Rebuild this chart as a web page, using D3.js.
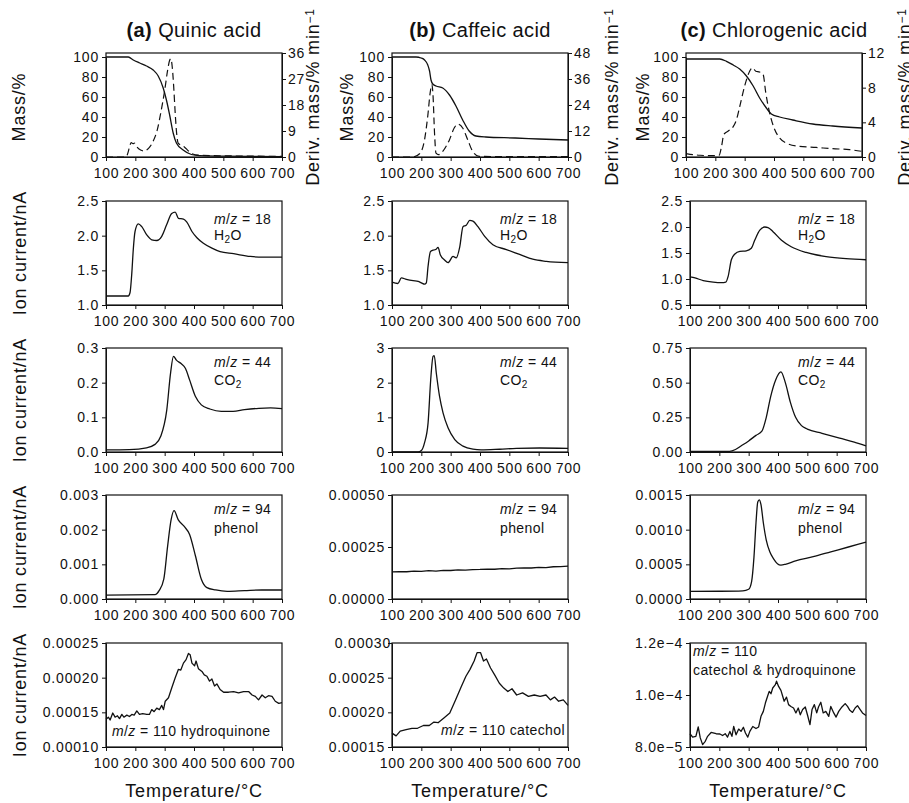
<!DOCTYPE html>
<html>
<head>
<meta charset="utf-8">
<script src="https://d3js.org/d3.v7.min.js"></script>
<style>
    body { margin: 0; background: #fff; }
    svg text { font-family: "Liberation Sans", Arial, sans-serif; fill: #111; }
</style>
<title>TG and MS curves</title>
</head>
<body>
<svg id="chart" width="909" height="803"></svg>
<script>
// temperature ticks shared by every panel
var temps = [100, 200, 300, 400, 500, 600, 700];

// row 1: mass (solid) and derivative mass (dashed), [T, value]
var quinicMass = [[100,100],[176,100],[193,97],[215,94],[238,91],[261,87],[278,81],[295,69],[306,57],[317,42],[329,24],[340,14],[363,7],[391,2.5],[419,1.3],[500,0.9],[600,0.6],[700,0.4]];
var quinicDeriv = [[100,0],[168,0],[175,1.5],[182,4.2],[186,5.0],[192,4.6],[197,4.8],[205,3.5],[218,2.4],[228,2.1],[245,3.0],[261,5.5],[275,9.5],[288,16],[300,23],[310,30],[317,33.5],[321,34],[326,31],[331,24],[336,15],[341,8],[346,4.8],[357,4.0],[368,3.4],[378,2.4],[391,1.2],[419,0.6],[500,0.4],[600,0.3],[700,0.2]];
var caffeicMass = [[100,100],[182,100],[199,99],[211,97],[222,92],[228,86],[233,77],[239,73],[250,71],[273,69],[296,62],[318,51],[341,37],[363,26],[386,21],[420,20],[520,19],[600,18],[700,17]];
var caffeicDeriv = [[100,0],[171,0],[194,1.5],[211,8],[222,19],[230,29.5],[236,33.4],[240,28],[245,11],[250,1.8],[259,1.1],[273,2.6],[296,8],[312,13.4],[324,15.2],[341,13.4],[358,8],[375,2.6],[397,0.3],[500,0.2],[700,0.2]];
var chloroMass = [[100,98],[215,98],[238,95.7],[261,92],[283,88],[306,81],[329,71],[351,59],[374,49],[391,43],[419,40],[464,37],[532,33],[600,31],[700,29]];
var chloroDeriv = [[100,0.4],[125,0.27],[148,0.2],[193,0.15],[213,0.2],[221,1.2],[229,2.6],[244,3.0],[261,3.5],[272,4.3],[283,5.8],[300,8.2],[317,9.9],[326,10.3],[338,9.9],[351,9.8],[363,9.5],[372,7.4],[385,5.1],[402,3.2],[419,2.2],[442,1.6],[487,1.23],[544,1.1],[600,0.96],[657,0.85],[700,0.65]];
var massTicks = [0, 20, 40, 60, 80, 100];
var quinicDerivTicks = [0, 9, 18, 27, 36];
var caffeicDerivTicks = [0, 12, 24, 36, 48];
var chloroDerivTicks = [0, 4, 8, 12];

// row 2: m/z = 18
var quinicH2O = [[100,1.13],[176,1.13],[182,1.18],[188,1.46],[193,1.80],[199,2.06],[210,2.17],[222,2.13],[239,2.01],[256,1.94],[273,1.93],[290,1.99],[307,2.16],[324,2.32],[336,2.34],[347,2.25],[364,2.24],[375,2.20],[393,2.06],[410,1.97],[432,1.89],[461,1.82],[489,1.77],[535,1.74],[592,1.70],[637,1.69],[700,1.69]];
var caffeicH2O = [[100,1.33],[120,1.31],[132,1.39],[149,1.37],[172,1.35],[189,1.34],[200,1.32],[211,1.30],[217,1.32],[223,1.56],[231,1.77],[240,1.79],[249,1.80],[257,1.83],[265,1.72],[279,1.65],[291,1.61],[308,1.70],[319,1.68],[331,1.84],[342,2.13],[353,2.15],[365,2.22],[376,2.21],[393,2.13],[416,1.99],[444,1.87],[490,1.80],[535,1.73],[580,1.66],[626,1.63],[700,1.61]];
var chloroH2O = [[100,1.04],[117,1.02],[145,0.97],[179,0.94],[208,0.93],[222,0.94],[230,1.05],[241,1.37],[253,1.48],[270,1.53],[292,1.54],[309,1.59],[321,1.75],[338,1.94],[355,2.00],[366,1.99],[383,1.91],[411,1.75],[445,1.62],[496,1.51],[564,1.43],[632,1.39],[700,1.37]];
var h2oTicks = [1.0, 1.5, 2.0, 2.5];
var chloroH2OTicks = [0.5, 1.0, 1.5, 2.0, 2.5];

// row 3: m/z = 44
var quinicCO2 = [[100,0.006],[179,0.007],[238,0.012],[267,0.022],[287,0.046],[307,0.12],[320,0.227],[330,0.276],[340,0.265],[356,0.255],[371,0.241],[385,0.208],[405,0.16],[425,0.136],[454,0.124],[493,0.117],[533,0.117],[572,0.122],[621,0.126],[661,0.127],[700,0.125]];
var caffeicCO2 = [[100,0],[189,0],[200,0.04],[211,0.27],[223,0.84],[232,2.09],[240,2.76],[244,2.78],[251,2.28],[262,1.61],[274,1.13],[291,0.70],[314,0.36],[342,0.17],[376,0.08],[404,0.06],[467,0.08],[524,0.105],[603,0.115],[700,0.105]];
var chloroCO2 = [[100,0.005],[235,0.005],[255,0.018],[275,0.045],[300,0.08],[325,0.12],[345,0.15],[360,0.25],[375,0.40],[392,0.52],[410,0.578],[425,0.50],[442,0.36],[460,0.25],[480,0.19],[500,0.165],[550,0.135],[610,0.10],[660,0.072],[700,0.045]];
var quinicCO2Ticks = [0.0, 0.1, 0.2, 0.3];
var caffeicCO2Ticks = [0, 1, 2, 3];
var chloroCO2Ticks = [0.00, 0.25, 0.50, 0.75];

// row 4: m/z = 94
var quinicPhenol = [[100,0.000114],[267,0.000124],[281,0.00024],[297,0.00057],[310,0.00152],[322,0.00229],[332,0.00255],[346,0.00229],[366,0.0021],[385,0.00186],[405,0.00124],[425,0.00057],[444,0.00033],[474,0.00026],[513,0.00022],[572,0.00024],[631,0.00026],[700,0.00026]];
var caffeicPhenol = [[100,0.000130],[125,0.000132],[150,0.000131],[175,0.000134],[200,0.000133],[225,0.000136],[250,0.000134],[275,0.000138],[300,0.000137],[325,0.000140],[350,0.000139],[375,0.000141],[400,0.000142],[425,0.000144],[450,0.000143],[475,0.000146],[500,0.000145],[525,0.000148],[550,0.000150],[575,0.000149],[600,0.000152],[625,0.000151],[650,0.000155],[675,0.000156],[700,0.000158]];
var chloroPhenol = [[100,0.000110],[200,0.000112],[280,0.000118],[300,0.00014],[310,0.00025],[318,0.00060],[325,0.00110],[331,0.00140],[336,0.00143],[342,0.00136],[350,0.00110],[360,0.00085],[372,0.00068],[385,0.00058],[398,0.00051],[410,0.00049],[425,0.00050],[460,0.00055],[520,0.00061],[580,0.00068],[640,0.00075],[700,0.00082]];
var quinicPhenolTicks = [0.000, 0.001, 0.002, 0.003];
var caffeicPhenolTicks = [0, 0.00025, 0.0005];
var chloroPhenolTicks = [0, 0.0005, 0.0010, 0.0015];

// row 5: m/z = 110
var quinicHQ = [[100,0.000140],[108,0.000143],[114,0.000139],[123,0.000149],[131,0.000143],[139,0.000145],[146,0.000141],[154,0.000147],[161,0.000143],[171,0.000146],[180,0.000144],[188,0.000147],[196,0.000146],[205,0.000152],[214,0.000147],[225,0.000148],[239,0.000147],[248,0.000147],[256,0.000154],[264,0.000151],[273,0.000156],[282,0.000154],[290,0.000160],[296,0.000154],[302,0.000166],[313,0.000171],[324,0.000185],[336,0.000200],[347,0.000212],[355,0.000211],[364,0.000221],[373,0.000226],[381,0.000235],[387,0.000233],[393,0.000221],[402,0.000217],[407,0.000224],[415,0.000213],[427,0.000209],[435,0.000204],[444,0.000202],[453,0.000195],[461,0.000198],[470,0.000188],[478,0.000191],[489,0.000183],[501,0.000179],[518,0.000179],[535,0.000180],[552,0.000178],[569,0.000180],[586,0.000180],[598,0.000175],[609,0.000173],[620,0.000168],[632,0.000175],[643,0.000171],[654,0.000174],[666,0.000173],[677,0.000166],[689,0.000163],[700,0.000164]];
var caffeicCat = [[100,0.000170],[114,0.000166],[128,0.000173],[148,0.000175],[168,0.000177],[187,0.000177],[207,0.000181],[227,0.000181],[243,0.000186],[257,0.000185],[277,0.000192],[297,0.000199],[317,0.000218],[336,0.000237],[352,0.000252],[366,0.000262],[380,0.000274],[390,0.000286],[402,0.000286],[412,0.000274],[422,0.000277],[436,0.000264],[450,0.000254],[466,0.000242],[481,0.000235],[495,0.000230],[509,0.000234],[525,0.000225],[545,0.000228],[565,0.000223],[585,0.000225],[605,0.000223],[625,0.000225],[640,0.000218],[654,0.000222],[668,0.000216],[684,0.000218],[700,0.000210]];
var chloroCH = [[100,8.51e-5],[109,8.38e-5],[120,8.41e-5],[128,8.77e-5],[135,8.35e-5],[143,8.09e-5],[152,8.22e-5],[160,8.41e-5],[172,8.56e-5],[189,8.51e-5],[202,8.50e-5],[211,8.44e-5],[220,8.51e-5],[228,8.38e-5],[236,8.60e-5],[243,8.41e-5],[249,8.79e-5],[257,8.47e-5],[266,8.69e-5],[274,8.60e-5],[282,8.76e-5],[289,8.54e-5],[297,8.38e-5],[304,8.60e-5],[314,8.79e-5],[325,8.71e-5],[334,8.77e-5],[342,9.18e-5],[350,9.37e-5],[357,9.69e-5],[365,9.97e-5],[370,1.014e-4],[376,1.005e-4],[382,1.027e-4],[391,1.040e-4],[395,1.053e-4],[402,1.033e-4],[410,1.018e-4],[416,9.95e-5],[421,9.76e-5],[429,9.92e-5],[436,9.63e-5],[444,9.56e-5],[453,9.50e-5],[461,9.31e-5],[469,9.50e-5],[476,9.24e-5],[484,9.44e-5],[493,9.54e-5],[501,9.21e-5],[509,8.86e-5],[516,9.44e-5],[524,9.63e-5],[532,9.31e-5],[538,9.54e-5],[546,9.72e-5],[554,9.31e-5],[563,9.37e-5],[573,9.18e-5],[580,9.56e-5],[590,9.31e-5],[598,9.15e-5],[607,9.37e-5],[618,9.54e-5],[629,9.67e-5],[637,9.56e-5],[645,9.41e-5],[654,9.33e-5],[663,9.50e-5],[671,9.59e-5],[679,9.46e-5],[688,9.31e-5],[700,9.21e-5]];
var quinicHQTicks = [0.00010, 0.00015, 0.00020, 0.00025];
var caffeicCatTicks = [0.00015, 0.00020, 0.00025, 0.00030];
var chloroCHTicks = [8e-5, 1.0e-4, 1.2e-4];
var chloroCHTickLabels = ["8.0e\u22125", "1.0e\u22124", "1.2e\u22124"];

var titles = [["(a)", " Quinic acid"], ["(b)", " Caffeic acid"], ["(c)", " Chlorogenic acid"]];

var svg = d3.select("#chart");
var W = 176, H = 104;
var colX = [106, 392, 690];
var rowY = [53, 201, 348, 495, 643];

function mz(n) {
    return [["m", "i"], ["/"], ["z", "i"], [" = " + n]];
}

function writeParts(text, parts) {
    parts.forEach(function (p) {
        var t = text.append("tspan").text(p[0]);
        if (p[1] === "i") t.style("font-style", "italic");
        if (p[1] === "sub") t.attr("baseline-shift", "-30%").style("font-size", "10px");
        if (p[1] === "sup") t.attr("baseline-shift", "40%").style("font-size", "12px");
    });
}

function styleAxis(a) {
    a.attr("font-family", null).attr("font-size", null);
    a.selectAll("path,line").attr("stroke", "#111");
    a.selectAll("text").style("font-size", "14px").style("letter-spacing", "0.8px");
}

function panel(row, col, cfg) {
    var left = colX[col] - (row === 0 && col === 2 ? 4 : 0);
    var g = svg.append("g").attr("transform", "translate(" + left + "," + rowY[row] + ")");
    var x = d3.scaleLinear().domain([100, 700]).range([0, W]);
    var y = d3.scaleLinear().domain(cfg.domain).range([H, cfg.top || 0]);

    g.append("rect")
        .attr("width", W).attr("height", H)
        .attr("fill", "none").attr("stroke", "#111").attr("stroke-width", 1.2);

    var xa = g.append("g")
        .attr("transform", "translate(0," + H + ")")
        .call(d3.axisBottom(x).tickValues(temps).tickSize(4).tickSizeOuter(0).tickPadding(7).tickFormat(d3.format("d")));
    styleAxis(xa);

    var ya = g.append("g")
        .call(d3.axisLeft(y).tickValues(cfg.ticks).tickSize(4).tickSizeOuter(0).tickPadding(3).tickFormat(cfg.fmt));
    styleAxis(ya);
    if (cfg.shiftTop) {
        var topTick = cfg.ticks[cfg.ticks.length - 1];
        ya.selectAll(".tick text")
            .filter(function (d) { return d === topTick; })
            .attr("x", -7 + cfg.shiftTop);
    }

    if (cfg.right) {
        var y2 = d3.scaleLinear().domain(d3.extent(cfg.right.ticks)).range([H, 0]);
        var ra = g.append("g")
            .attr("transform", "translate(" + W + ",0)")
            .call(d3.axisRight(y2).tickValues(cfg.right.ticks).tickSize(4).tickSizeOuter(0).tickPadding(2));
        styleAxis(ra);
        g.append("path")
            .datum(cfg.right.data)
            .attr("fill", "none")
            .attr("stroke", "#111")
            .attr("stroke-width", 1.2)
            .attr("stroke-dasharray", "7,4")
            .attr("d", d3.line()
                .x(function (d) { return x(d[0]); })
                .y(function (d) { return y2(d[1]); })
                .curve(d3.curveMonotoneX));
    }

    g.append("path")
        .datum(cfg.data)
        .attr("fill", "none")
        .attr("stroke", "#111")
        .attr("stroke-width", 1.3)
        .attr("stroke-linejoin", "round")
        .attr("d", d3.line()
            .x(function (d) { return x(d[0]); })
            .y(function (d) { return y(d[1]); })
            .curve(cfg.noisy ? d3.curveLinear : d3.curveMonotoneX));

    (cfg.notes || []).forEach(function (n) {
        var t = g.append("text")
            .attr("x", n.x).attr("y", n.y)
            .attr("text-anchor", n.anchor || "start")
            .style("font-size", "14px")
            .style("letter-spacing", "0.4px");
        writeParts(t, n.parts);
    });
}

function twoLine(a, b, y1, y2) {
    return [{ x: 108, y: y1, parts: a }, { x: 108, y: y2, parts: b }];
}

// row 1
panel(0, 0, { data: quinicMass, domain: [0, 100], top: 4, ticks: massTicks, fmt: d3.format("d"),
    right: { data: quinicDeriv, ticks: quinicDerivTicks } });
panel(0, 1, { data: caffeicMass, domain: [0, 100], top: 4, ticks: massTicks, fmt: d3.format("d"),
    right: { data: caffeicDeriv, ticks: caffeicDerivTicks } });
panel(0, 2, { data: chloroMass, domain: [0, 100], top: 4, ticks: massTicks, fmt: d3.format("d"),
    right: { data: chloroDeriv, ticks: chloroDerivTicks } });

// row 2
var h2oNote = twoLine(mz("18"), [["H"], ["2", "sub"], ["O"]], 23, 39);
panel(1, 0, { data: quinicH2O, domain: d3.extent(h2oTicks), ticks: h2oTicks, fmt: d3.format(".1f"), notes: h2oNote });
panel(1, 1, { data: caffeicH2O, domain: d3.extent(h2oTicks), ticks: h2oTicks, fmt: d3.format(".1f"), notes: h2oNote });
panel(1, 2, { data: chloroH2O, domain: d3.extent(chloroH2OTicks), ticks: chloroH2OTicks, fmt: d3.format(".1f"), notes: h2oNote });

// row 3
var co2Note = twoLine(mz("44"), [["CO"], ["2", "sub"]], 19, 37);
panel(2, 0, { data: quinicCO2, domain: d3.extent(quinicCO2Ticks), ticks: quinicCO2Ticks, fmt: d3.format(".1f"), notes: co2Note });
panel(2, 1, { data: caffeicCO2, domain: d3.extent(caffeicCO2Ticks), ticks: caffeicCO2Ticks, fmt: d3.format("d"), notes: co2Note });
panel(2, 2, { data: chloroCO2, domain: d3.extent(chloroCO2Ticks), ticks: chloroCO2Ticks, fmt: d3.format(".2f"), notes: co2Note });

// row 4
var phenolNote = twoLine(mz("94"), [["phenol"]], 19, 38);
panel(3, 0, { data: quinicPhenol, domain: d3.extent(quinicPhenolTicks), ticks: quinicPhenolTicks, fmt: d3.format(".3f"), notes: phenolNote });
panel(3, 1, { data: caffeicPhenol, domain: d3.extent(caffeicPhenolTicks), ticks: caffeicPhenolTicks, fmt: d3.format(".5f"), notes: phenolNote, noisy: true });
panel(3, 2, { data: chloroPhenol, domain: d3.extent(chloroPhenolTicks), ticks: chloroPhenolTicks, fmt: d3.format(".4f"), notes: phenolNote });

// row 5
panel(4, 0, { data: quinicHQ, domain: d3.extent(quinicHQTicks), ticks: quinicHQTicks, fmt: d3.format(".5f"), noisy: true,
    notes: [{ x: 6, y: H - 11, parts: mz("110").concat([[" hydroquinone"]]) }] });
panel(4, 1, { data: caffeicCat, domain: d3.extent(caffeicCatTicks), ticks: caffeicCatTicks, fmt: d3.format(".5f"), noisy: true, shiftTop: 6,
    notes: [{ x: W - 3, y: H - 12, anchor: "end", parts: mz("110").concat([[" catechol"]]) }] });
panel(4, 2, { data: chloroCH, domain: d3.extent(chloroCHTicks), ticks: chloroCHTicks, noisy: true,
    fmt: function (d, i) { return chloroCHTickLabels[i]; },
    notes: [{ x: 3, y: 13, parts: mz("110") }, { x: 3, y: 32, parts: [["catechol & hydroquinone"]] }] });

// titles
titles.forEach(function (t, i) {
    var cx = colX[i] + W / 2 - (i === 2 ? 4 : 0);
    var txt = svg.append("text")
        .attr("x", cx).attr("y", 37)
        .attr("text-anchor", "middle")
        .style("font-size", "20px")
        .style("letter-spacing", "0.4px");
    txt.append("tspan").style("font-weight", "bold").text(t[0]);
    txt.append("tspan").text(t[1]);
});

// axis titles
function vLabel(cx, cy, parts) {
    var t = svg.append("text")
        .attr("transform", "translate(" + cx + "," + cy + ") rotate(-90)")
        .attr("text-anchor", "middle")
        .attr("dy", "0.35em")
        .style("font-size", "18px")
        .style("letter-spacing", "0.8px");
    writeParts(t, parts);
}
[19, 347, 643].forEach(function (cx) { vLabel(cx, 107, [["Mass/%"]]); });
[313, 612, 905].forEach(function (cx) { vLabel(cx, 97, [["Deriv. mass/% min"], ["\u22121", "sup"]]); });
rowY.slice(1).forEach(function (ry) { vLabel(20, ry + H / 2, [["Ion current/nA"]]); });

colX.forEach(function (cx0) {
    svg.append("text")
        .attr("x", cx0 + W / 2).attr("y", 797)
        .attr("text-anchor", "middle")
        .style("font-size", "18px")
        .style("letter-spacing", "0.8px")
        .text("Temperature/\u00B0C");
});
</script>
</body>
</html>
